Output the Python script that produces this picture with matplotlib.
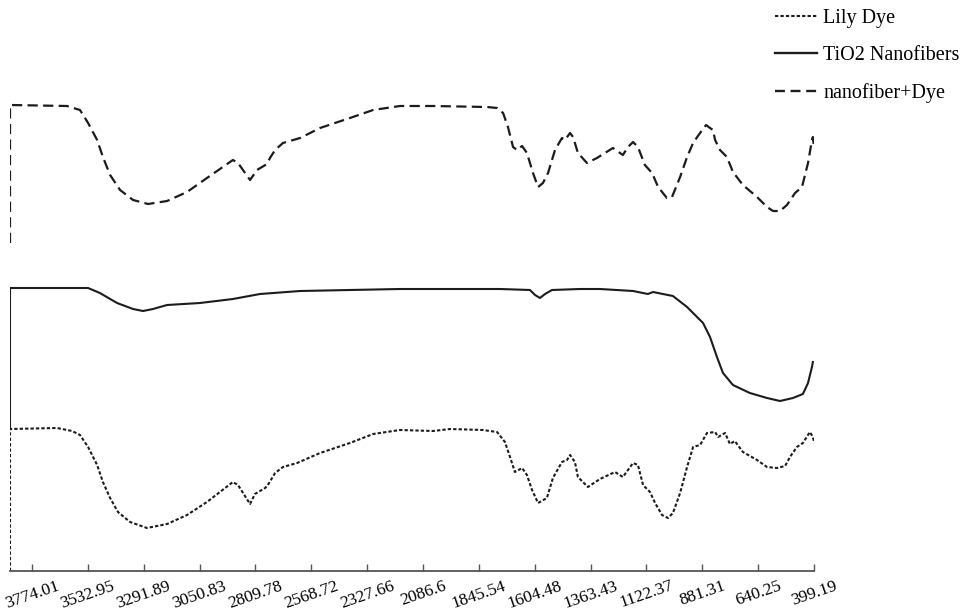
import matplotlib
matplotlib.use("Agg")
import matplotlib.pyplot as plt
from matplotlib.lines import Line2D

plt.rcParams['font.family'] = ['Liberation Serif', 'DejaVu Serif']

# FTIR-style stacked spectra, wavenumber (cm-1) vs relative signal (offset, a.u.)
tick_values = [3774.01, 3532.95, 3291.89, 3050.83, 2809.78, 2568.72, 2327.66, 2086.6,
               1845.54, 1604.48, 1363.43, 1122.37, 881.31, 640.25, 399.19]
tick_labels = ['3774.01', '3532.95', '3291.89', '3050.83', '2809.78', '2568.72', '2327.66', '2086.6',
               '1845.54', '1604.48', '1363.43', '1122.37', '881.31', '640.25', '399.19']

# nanofiber + dye (top)
mix_w = [3869, 3869, 3623, 3567, 3532, 3493, 3468, 3437, 3394, 3338, 3273, 3191, 3105, 3019,
         2907, 2885, 2833, 2803, 2760, 2747, 2725, 2691, 2617, 2531, 2402, 2302, 2186, 2043,
         1810, 1767, 1741, 1720, 1698, 1681, 1659, 1638, 1612, 1590, 1569, 1547, 1517, 1487,
         1474, 1452, 1439, 1418, 1379, 1336, 1267, 1224, 1202, 1180, 1159, 1129, 1098, 1072,
         1034, 1012, 977, 947, 921, 891, 865, 848, 835, 826, 805, 775, 749, 706, 645, 602,
         576, 546, 516, 481, 451, 425, 408, 404, 399]
mix_y = [328, 466, 465, 461, 448, 431, 414, 396, 381, 371, 367, 370, 379, 393,
         411, 408, 391, 401, 407, 413, 421, 428, 433, 443, 453, 461, 465, 465,
         464, 463, 458, 444, 424, 421, 425, 418, 398, 384, 388, 398, 421, 433,
         431, 438, 434, 418, 408, 413, 423, 416, 424, 429, 424, 406, 398, 384,
         373, 374, 394, 414, 428, 438, 446, 443, 441, 431, 421, 414, 399, 386, 374, 364,
         360, 360, 366, 378, 384, 408, 431, 434, 423]

# TiO2 nanofibers (middle)
tio2_w = [3869, 3869, 3532, 3481, 3407, 3338, 3295, 3252, 3191, 3049, 2907, 2790, 2617, 2402,
          2186, 1754, 1625, 1603, 1582, 1560, 1530, 1409, 1323, 1180, 1116, 1094, 1008, 947,
          878, 848, 818, 792, 749, 676, 602, 546, 490, 447, 425, 408, 404]
tio2_y = [143, 283, 283, 278, 268, 262, 260, 262, 266, 268, 272, 277, 280, 281,
          282, 282, 281, 276, 273, 277, 281, 282, 282, 280, 277, 279, 275, 264,
          248, 234, 214, 198, 186, 178, 173, 170, 173, 177, 188, 204, 209]

# lily dye (bottom)
dye_w = [3869, 3869, 3666, 3601, 3567, 3532, 3493, 3468, 3437, 3403, 3351, 3278, 3191, 3105,
         3019, 2907, 2885, 2833, 2812, 2768, 2756, 2725, 2691, 2630, 2531, 2402, 2302, 2186,
         2043, 1970, 1828, 1767, 1733, 1711, 1690, 1659, 1638, 1616, 1590, 1552, 1526, 1487,
         1465, 1452, 1431, 1418, 1375, 1323, 1258, 1224, 1202, 1180, 1159, 1137, 1107, 1085,
         1055, 1029, 1008, 977, 947, 921, 891, 861, 826, 813, 783, 762, 741, 706, 645, 602,
         559, 524, 503, 473, 447, 417, 404, 399]
dye_y = [0, 142, 143, 140, 136, 124, 106, 89, 73, 59, 49, 43, 47, 56,
         69, 89, 86, 67, 77, 83, 86, 98, 104, 108, 118, 128, 137, 141,
         140, 142, 141, 139, 129, 114, 99, 103, 96, 81, 68, 73, 93, 109,
         111, 116, 109, 94, 84, 92, 99, 94, 101, 108, 106, 86, 79, 68,
         56, 53, 58, 78, 104, 124, 126, 138, 139, 134, 138, 127, 130, 119, 111, 104,
         103, 105, 114, 124, 128, 139, 134, 129]

fig = plt.figure(figsize=(9.69, 6.16), dpi=100)
ax = fig.add_axes([10 / 969, 45 / 616, 804 / 969, 476 / 616])

ink = '#1c1c1c'
ax.plot(mix_w, mix_y, color=ink, lw=1.6, dashes=(4.6, 2.4), label='nanofiber+Dye')
ax.plot(tio2_w, tio2_y, color=ink, lw=1.5, label='TiO2 Nanofibers')
ax.plot(dye_w, dye_y, color=ink, lw=1.5, dashes=(1.6, 1.0), label='Lily Dye')

ax.set_xlim(3869, 399.19)
ax.set_ylim(0, 476)
for s in ['top', 'left', 'right']:
    ax.spines[s].set_visible(False)
ax.spines['bottom'].set_color('#555555')
ax.spines['bottom'].set_linewidth(1.3)
ax.set_yticks([])
ax.set_xticks(tick_values)
ax.set_xticklabels(tick_labels, rotation=19, ha='center', fontsize=12.5)
ax.tick_params(axis='x', direction='in', length=5, width=1, color='#555555', pad=5)

handles = [Line2D([], [], color=ink, lw=1.5, dashes=(1.6, 1.0)),
           Line2D([], [], color=ink, lw=1.7),
           Line2D([], [], color=ink, lw=1.7, dashes=(4.2, 2.4))]
fig.legend(handles, ['Lily Dye', 'TiO2 Nanofibers', 'nanofiber+Dye'],
           loc='upper left', bbox_to_anchor=(775 / 969, 1 - 9 / 616),
           frameon=False, fontsize=14.5, handlelength=2.1, handletextpad=0.3,
           labelspacing=0.9, borderpad=0, borderaxespad=0)

fig.savefig('out.png', dpi=100)
